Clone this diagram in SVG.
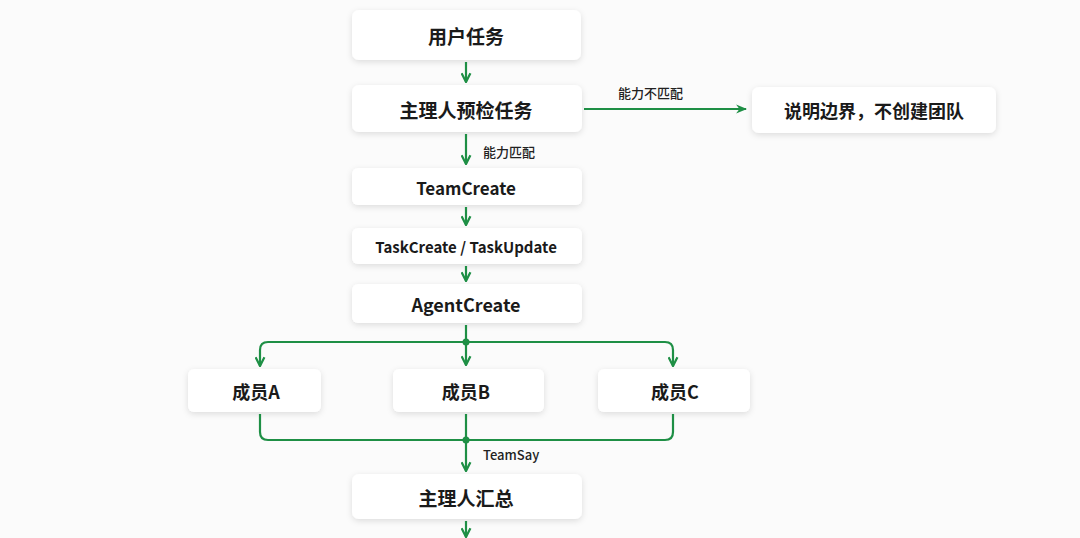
<svg xmlns="http://www.w3.org/2000/svg" width="1080" height="538" viewBox="0 0 1080 538">
<defs>
<filter id="sh" x="-20%" y="-40%" width="140%" height="180%"><feDropShadow dx="0" dy="2" stdDeviation="3" flood-color="#000" flood-opacity="0.12"/></filter>
<marker id="ah" viewBox="0 0 10 10" refX="9" refY="5" markerWidth="5" markerHeight="5" orient="auto"><path d="M1,1 L9,5 L1,9" fill="none" stroke="#1e8f45" stroke-width="2"/></marker>
<marker id="af" viewBox="0 0 10 10" refX="9" refY="5" markerWidth="5" markerHeight="5" orient="auto"><path d="M0,1 L10,5 L0,9 L3,5 Z" fill="#1e8f45"/></marker>
</defs>
<style>
.n{fill:#fff;filter:url(#sh)}
.t{font-family:"Noto Sans CJK SC","Noto Sans",sans-serif;font-weight:700;fill:#1a1a1a;text-anchor:middle;dominant-baseline:central}
.l{font-family:"Noto Sans CJK SC","Noto Sans",sans-serif;font-weight:500;font-size:13px;fill:#222}
.c{fill:none;stroke:#1e8f45;stroke-width:2.2}
</style>
<rect width="1080" height="538" fill="#fbfbfb"/>
<g id="n1"><rect class="n" x="352" y="10" width="229" height="50" rx="7"/><text class="t" x="466" y="35" font-size="19">用户任务</text></g>
<g id="n2"><rect class="n" x="352" y="85" width="230" height="47" rx="7"/><text class="t" x="466" y="109" font-size="19">主理人预检任务</text></g>
<g id="n3"><rect class="n" x="752" y="87" width="244" height="46" rx="7"/><text class="t" x="874" y="110" font-size="18">说明边界，不创建团队</text></g>
<g id="n4"><rect class="n" x="352" y="168" width="230" height="37" rx="6"/><text class="t" x="466" y="187" font-size="17">TeamCreate</text></g>
<g id="n5"><rect class="n" x="352" y="228" width="230" height="36" rx="6"/><text class="t" x="466" y="246" font-size="15">TaskCreate / TaskUpdate</text></g>
<g id="n6"><rect class="n" x="352" y="284" width="230" height="39" rx="6"/><text class="t" x="466" y="304" font-size="18">AgentCreate</text></g>
<g id="nA"><rect class="n" x="188" y="369" width="133" height="43" rx="6"/><text class="t" x="256" y="391" font-size="18">成员A</text></g>
<g id="nB"><rect class="n" x="393" y="369" width="151" height="43" rx="6"/><text class="t" x="466" y="391" font-size="18">成员B</text></g>
<g id="nC"><rect class="n" x="598" y="369" width="152" height="43" rx="6"/><text class="t" x="675" y="391" font-size="18">成员C</text></g>
<g id="n7"><rect class="n" x="352" y="474" width="230" height="45" rx="7"/><text class="t" x="466" y="497" font-size="19">主理人汇总</text></g>
<g id="connectors">
<path class="c" d="M466,62 V82" marker-end="url(#ah)"/>
<path class="c" d="M466,134 V164" marker-end="url(#ah)"/>
<text class="l" x="483" y="157">能力匹配</text>
<path class="c" d="M584,109 H746" marker-end="url(#af)"/>
<text class="l" x="618" y="98">能力不匹配</text>
<path class="c" d="M466,207 V225" marker-end="url(#ah)"/>
<path class="c" d="M466,266 V281" marker-end="url(#ah)"/>
<path class="c" d="M466,325 V365" marker-end="url(#ah)"/>
<path class="c" d="M466,342 H268 Q260,342 260,350 V366" marker-end="url(#ah)"/>
<path class="c" d="M466,342 H665 Q673,342 673,350 V366" marker-end="url(#ah)"/>
<circle cx="466" cy="342" r="3.5" fill="#1e8f45"/>
<path class="c" d="M260,414 V432 Q260,440 268,440 H665 Q673,440 673,432 V414"/>
<path class="c" d="M466,414 V471" marker-end="url(#ah)"/>
<circle cx="466" cy="440" r="3.5" fill="#1e8f45"/>
<text class="l" x="483" y="460">TeamSay</text>
<path class="c" d="M466,521 V537" marker-end="url(#ah)"/>
</g>
</svg>
